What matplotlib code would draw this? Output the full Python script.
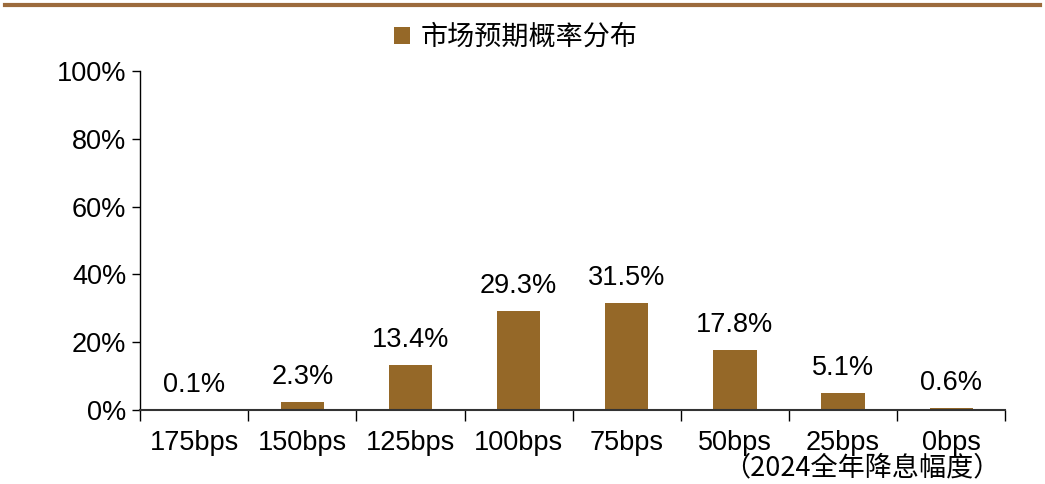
import numpy as np
import matplotlib.pyplot as plt
from matplotlib.lines import Line2D

plt.rcParams['font.family'] = ['Liberation Sans', 'Noto Sans CJK SC', 'DejaVu Sans']

categories = ['175bps', '150bps', '125bps', '100bps', '75bps', '50bps', '25bps', '0bps']
probs = [0.1, 2.3, 13.4, 29.3, 31.5, 17.8, 5.1, 0.6]
y_ticks = [0, 20, 40, 60, 80, 100]
series_name = '市场预期概率分布'
x_note = '（2024全年降息幅度）'

bar_color = '#956828'
line_color = '#9c6b3c'
fs = 19.5

fig = plt.figure(figsize=(10.45, 4.84), dpi=100)
ax = fig.add_axes([0.134, 0.153, 0.828, 0.700])

x = np.arange(len(categories))
bars = ax.bar(x, probs, width=0.4, color=bar_color, label=series_name, zorder=2)

for xi, v in zip(x, probs):
    ax.text(xi, v + 3.5, f'{v:.1f}%', ha='center', va='bottom', fontsize=fs)

ax.set_xlim(-0.5, len(categories) - 0.5)
ax.set_ylim(0, 100)
ax.set_yticks(y_ticks)
ax.set_yticklabels([f'{t}%' for t in y_ticks], fontsize=fs)
ax.tick_params(axis='y', direction='out', length=6, width=1, pad=4)

# category labels sit between the boundary ticks
ax.set_xticks(np.arange(len(categories) + 1) - 0.5)
ax.set_xticklabels([])
ax.tick_params(axis='x', direction='out', length=8, width=1)
for xi, name in zip(x, categories):
    ax.text(xi, -5.8, name, ha='center', va='top', fontsize=fs)

ax.spines['top'].set_visible(False)
ax.spines['right'].set_visible(False)
ax.spines['bottom'].set_linewidth(1.5)
ax.spines['bottom'].set_color('#333333')
ax.spines['left'].set_linewidth(1)

fig.text(0.825, 0.033, x_note, ha='center', va='center', fontsize=19.5,
         family=['Noto Sans CJK SC', 'Liberation Sans'])

ax.legend(loc='center', bbox_to_anchor=(0.434, 1.10), frameon=False,
          handlelength=0.6, handleheight=0.6, handletextpad=0.4,
          prop={'family': ['Noto Sans CJK SC'], 'size': 19.5})

# rule across the top of the figure
fig.add_artist(Line2D([0.005, 0.995], [0.99, 0.99], color=line_color, linewidth=3,
                      transform=fig.transFigure))

fig.savefig('out.png', dpi=100)
